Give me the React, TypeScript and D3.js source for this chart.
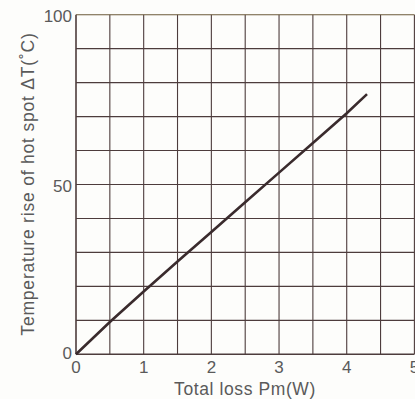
import React from "react";
import * as d3 from "d3";

// values
const lossW = [0, 0.5, 1, 1.5, 2, 2.5, 3, 3.5, 4, 4.3];
const riseC = [0, 9.5, 18.5, 27.3, 36, 44.8, 53.5, 62.2, 71, 76.6];
const xTicks = [0, 1, 2, 3, 4, 5];
const yTicks = [0, 50, 100];
const xGrid = d3.range(0, 5.01, 0.5);
const yGrid = d3.range(0, 100.1, 10);

const W = 415, H = 399;
const margin = {top: 14.7, right: 0.6, bottom: 44.7, left: 76};

export default function App() {
    const x = d3.scaleLinear().domain([0, 5]).range([margin.left, W - margin.right]);
    const y = d3.scaleLinear().domain([0, 100]).range([H - margin.bottom, margin.top]);

    const line = d3.line<number>()
        .x((d, i) => x(lossW[i]))
        .y(d => y(d));

    const gridColor = "#4d3c3c";
    const textColor = "#5a5a5a";
    const font = "'Liberation Sans', Arial, sans-serif";

    return (
        <svg width={W} height={H} style={{position: "absolute", left: 0, top: 0, background: "#fdfdfb"}}
             fontFamily={font}>
            {xGrid.map(v => (
                <line key={"xg" + v} x1={x(v)} x2={x(v)} y1={y(0)} y2={y(100)}
                      stroke={gridColor} strokeWidth={v === 0 ? 1.6 : 1.1}/>
            ))}
            {yGrid.map(v => (
                <line key={"yg" + v} x1={x(0)} x2={x(5)} y1={y(v)} y2={y(v)}
                      stroke={v === 100 ? "#6b5a3a" : gridColor} strokeWidth={v === 0 ? 1.6 : 1.1}/>
            ))}
            <path d={line(riseC) || ""} fill="none" stroke="#3a2b2d" strokeWidth={2.6}/>

            {xTicks.map(v => (
                <text key={"xt" + v} x={x(v)} y={373} textAnchor="middle" fontSize={17} fill={textColor}>{v}</text>
            ))}
            {yTicks.map(v => (
                <text key={"yt" + v} x={72} y={y(v) + (v === 0 ? 5 : 7.5)} textAnchor="end"
                      fontSize={17} fill={textColor}>{v}</text>
            ))}
            <text x={245} y={395} textAnchor="middle" fontSize={17.5} letterSpacing={0.6}
                  fill={textColor}>Total loss Pm(W)</text>
            <text transform={`translate(34,${184}) rotate(-90)`} textAnchor="middle" fontSize={17.5}
                  letterSpacing={0.8} fill={textColor}>Temperature rise of hot spot ΔT(˚C)</text>
        </svg>
    );
}
